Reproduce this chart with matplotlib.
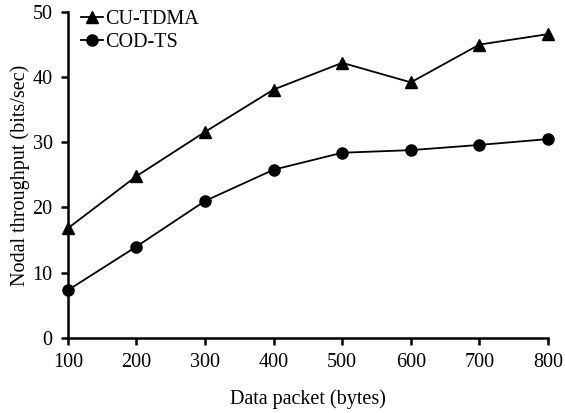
import matplotlib
matplotlib.use('Agg')
import matplotlib.pyplot as plt

# data
packet = [100, 200, 300, 400, 500, 600, 700, 800]
cu_tdma = [16.8, 24.8, 31.6, 38.1, 42.2, 39.2, 45.0, 46.6]
cod_ts = [7.3, 14.0, 21.0, 25.8, 28.4, 28.8, 29.6, 30.5]

plt.rcParams['font.family'] = ['Liberation Serif', 'DejaVu Serif']

fig = plt.figure(figsize=(5.65, 4.13), dpi=100)
ax = fig.add_axes([0.120, 0.182, 0.850, 0.789])

ax.plot(packet, cu_tdma, color='black', lw=1.3, marker='^', ms=8, label='CU-TDMA')
ax.plot(packet, cod_ts, color='black', lw=1.3, marker='o', ms=8, label='COD-TS')

ax.set_xlim(100, 800)
ax.set_ylim(0, 50)
ax.set_xticks(packet)
ax.set_yticks([0, 10, 20, 30, 40, 50])

for s in ['top', 'right']:
    ax.spines[s].set_visible(False)
for s in ['left', 'bottom']:
    ax.spines[s].set_linewidth(1.8)
    ax.spines[s].set_clip_on(False)

ax.tick_params(axis='both', direction='out', width=1.8, length=5, labelsize=14.5, pad=6)
for line in ax.lines:
    line.set_clip_on(False)

ax.set_xlabel('Data packet (bytes)', fontsize=14.5, labelpad=12)
ax.set_ylabel('Nodal throughput (bits/sec)', fontsize=14.5, labelpad=2)

leg = ax.legend(loc='upper left', frameon=False, fontsize=14.5, handlelength=1.1,
                handletextpad=0.1, borderaxespad=0.0, labelspacing=0.2,
                bbox_to_anchor=(0.01, 1.03))

fig.savefig('out.png', dpi=100, facecolor='white')
